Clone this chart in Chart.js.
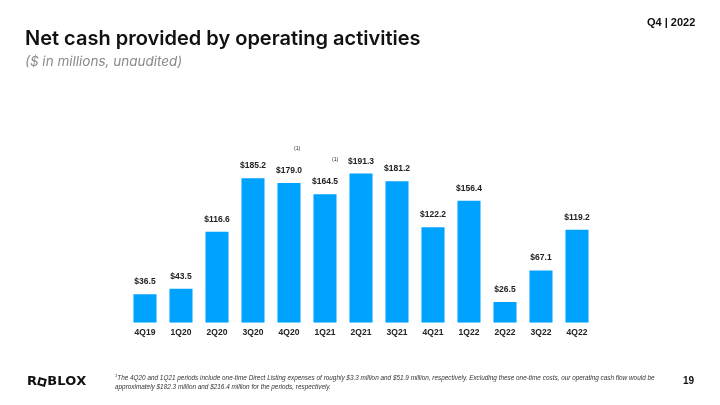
<!DOCTYPE html>
<html>
<head>
<meta charset="utf-8">
<script src="https://cdn.jsdelivr.net/npm/chart.js@4.4.0/dist/chart.umd.min.js"></script>
<style>
  html, body { margin: 0; padding: 0; background: #fff; }
  #wrap { position: relative; width: 720px; height: 405px; overflow: hidden; font-family: Inter, "Noto Sans", sans-serif; }
  #chart { position: absolute; left: 0; top: 0; }
  .abs { position: absolute; white-space: nowrap; }
  #title { left: 25px; top: 26px; font-size: 20px; font-weight: 600; color: #111; }
  #sub { left: 25px; top: 53px; font-size: 13.5px; font-style: italic; color: #8a8a8a; }
  #quarter { left: 647px; top: 16px; font-size: 11px; font-weight: 700; color: #111; font-family: "Liberation Sans", Arial, sans-serif; }
  .fn { font-size: 5px; color: #222; font-family: "Liberation Sans", Arial, sans-serif; }
  #note { left: 115px; top: 372px; font-size: 6.4px; line-height: 8.5px; font-style: italic; color: #333; font-family: "Liberation Sans", Arial, sans-serif; }
  #note sup { font-size: 4px; }
  #page { left: 683px; top: 375px; font-size: 10px; font-weight: 700; color: #111; font-family: "Liberation Sans", Arial, sans-serif; }
  #logo { left: 27px; top: 373px; font-size: 13px; font-weight: 800; color: #111; letter-spacing: 0.2px; font-family: "DejaVu Sans", sans-serif; }
  #logo .o { display: inline-block; width: 8px; height: 8px; border: 2.5px solid #111; box-sizing: border-box; transform: rotate(15deg); margin: 0 1px; vertical-align: -0.5px; }
</style>
</head>
<body>
<div id="wrap">
  <canvas id="chart" width="720" height="405"></canvas>
  <div class="abs" id="title">Net cash provided by operating activities</div>
  <div class="abs" id="sub">($ in millions, unaudited)</div>
  <div class="abs" id="quarter">Q4 | 2022</div>
  <div class="abs fn" style="left:294px;top:145px">(1)</div>
  <div class="abs fn" style="left:332px;top:156px">(1)</div>
  <div class="abs" id="logo">R<span class="o"></span>BLOX</div>
  <div class="abs" id="note"><sup>1</sup>The 4Q20 and 1Q21 periods include one-time Direct Listing expenses of roughly $3.3 million and $51.9 million, respectively. Excluding these one-time costs, our operating cash flow would be<br>approximately $182.3 million and $216.4 million for the periods, respectively.</div>
  <div class="abs" id="page">19</div>
</div>
<script>
// data
const quarters = ['4Q19', '1Q20', '2Q20', '3Q20', '4Q20', '1Q21', '2Q21', '3Q21', '4Q21', '1Q22', '2Q22', '3Q22', '4Q22']
const cashFlow = [36.5, 43.5, 116.6, 185.2, 179.0, 164.5, 191.3, 181.2, 122.2, 156.4, 26.5, 67.1, 119.2]

const labelFont = 'bold 8.5px "Liberation Sans", Arial, sans-serif'

// draws $ value above each bar
const valueLabels = {
  id: 'valueLabels',
  afterDatasetsDraw(chart) {
    const { ctx } = chart
    const meta = chart.getDatasetMeta(0)
    ctx.save()
    ctx.font = labelFont
    ctx.fillStyle = '#222'
    ctx.textAlign = 'center'
    ctx.textBaseline = 'bottom'
    meta.data.forEach((bar, i) => {
      ctx.fillText('$' + cashFlow[i].toFixed(1), bar.x, bar.y - 8)
    })
    ctx.restore()
  }
}

const chart = new Chart(document.querySelector('#chart'), {
  type: 'bar',
  data: {
    labels: quarters,
    datasets: [{
      data: cashFlow,
      backgroundColor: '#00A2FF',
      barPercentage: 0.64,
      categoryPercentage: 1
    }]
  },
  options: {
    responsive: false,
    animation: false,
    layout: { padding: { left: 127, right: 125, top: 151, bottom: 62 } },
    plugins: { legend: { display: false }, tooltip: { enabled: false } },
    scales: {
      x: {
        grid: { display: false, drawTicks: false },
        border: { display: false },
        ticks: { color: '#222', font: { size: 8.5, weight: 'bold', family: '"Liberation Sans", Arial, sans-serif' }, padding: 5 }
      },
      y: { display: false, min: 0, max: 220 }
    }
  },
  plugins: [valueLabels]
})
</script>
</body>
</html>
